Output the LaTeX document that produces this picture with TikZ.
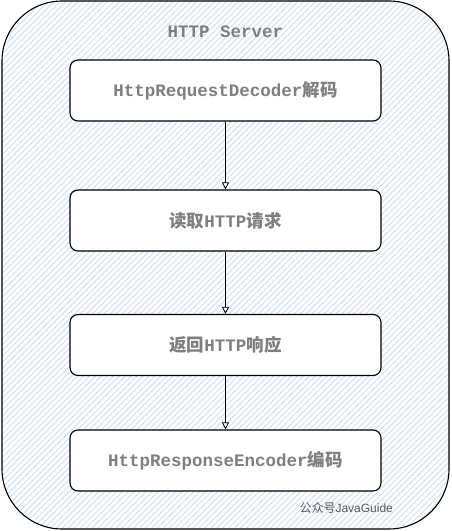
\documentclass[tikz,border=0pt]{standalone}
\usepackage{fontspec}
\setmonofont{Liberation Mono}
\setsansfont{Liberation Sans}
\newfontfamily\cjk{Noto Sans CJK SC}
\usetikzlibrary{calc,arrows.meta,patterns.meta,positioning}
\definecolor{txtgray}{HTML}{7F7F7F}
\definecolor{hatchblue}{HTML}{CFE0F7}
\definecolor{markgray}{HTML}{5A5A5A}

\begin{document}
\begin{tikzpicture}[x=1pt, y=1pt,
    server/.style={draw, line width=1.1pt, rounded corners=60pt, preaction={fill=white},
        pattern={Lines[angle=45, distance=4.2pt, line width=1pt]}, pattern color=hatchblue},
    stepbox/.style={align=center, rectangle, fill=white, draw, line width=1.1pt,
        rounded corners=8pt, minimum height=61pt, minimum width=311pt,
        text=txtgray, font=\fontsize{17.5}{20}\selectfont\bfseries},
    flow/.style={-{Triangle[open, length=7pt, width=7pt]}, line width=0.8pt}
]

\useasboundingbox (0,0) rectangle (451,531);

\draw [server] (2,2) rectangle (449,530);

\node [text=txtgray, font=\fontsize{17.5}{20}\selectfont\ttfamily\bfseries] (title) at (225.5,499) {HTTP Server};

\node [stepbox] (req_decoder) at (225.5,440.5) {\ttfamily HttpRequestDecoder{\cjk 解码}};
\node [stepbox] (read_req) at (225.5,310.5) {{\cjk 读取}\ttfamily HTTP{\cjk 请求}};
\node [stepbox] (send_resp) at (225.5,186) {{\cjk 返回}\ttfamily HTTP{\cjk 响应}};
\node [stepbox] (resp_encoder) at (225.5,70.5) {\ttfamily HttpResponseEncoder{\cjk 编码}};

\draw [flow] (req_decoder) -- (read_req);
\draw [flow] (read_req) -- (send_resp);
\draw [flow] (send_resp) -- (resp_encoder);

\node [text=markgray, font=\fontsize{12}{14}\selectfont, anchor=west] (mark) at (296,23) {{\cjk 公众号}\sffamily JavaGuide};

\end{tikzpicture}
\end{document}
